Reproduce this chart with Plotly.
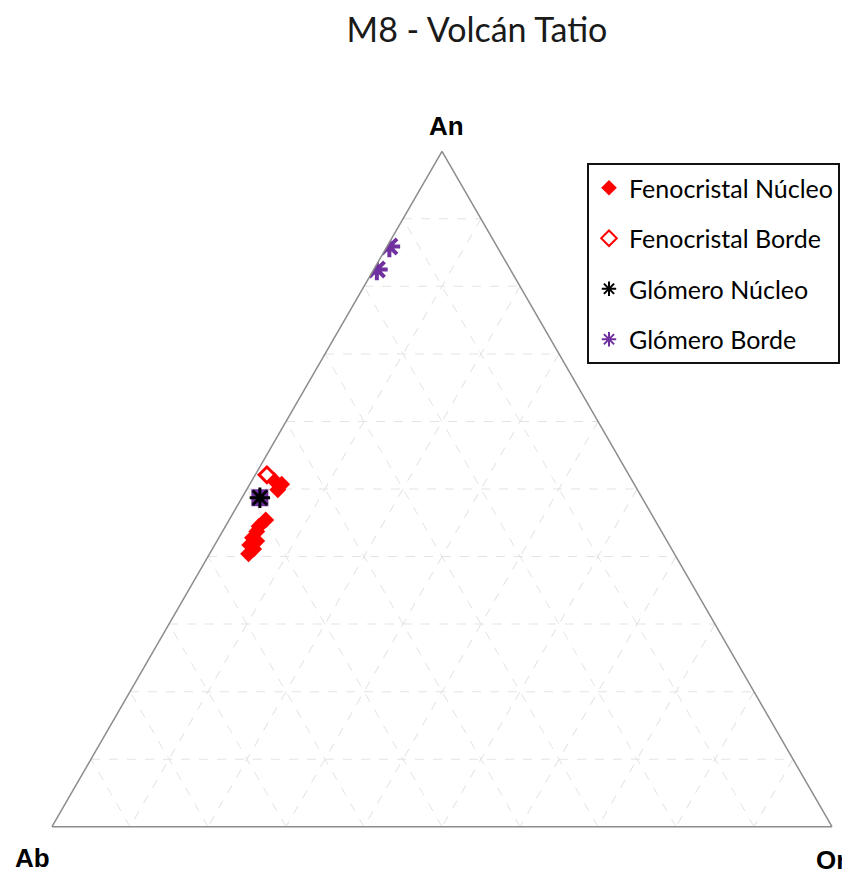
import plotly.graph_objects as go

# ───────────── Data (fractions An / Ab / Or) ─────────────
feno_nucleo_an = [0.513, 0.507, 0.499, 0.454, 0.445, 0.437, 0.428, 0.423, 0.417, 0.411, 0.404]
feno_nucleo_or = [0.028, 0.041, 0.040, 0.047, 0.043, 0.044, 0.043, 0.051, 0.045, 0.053, 0.050]

feno_borde_an = [0.521]
feno_borde_or = [0.015]

glom_nucleo_an = [0.487]
glom_nucleo_or = [0.023]

glom_borde_an = [0.859, 0.825]
glom_borde_or = [0.003, 0.004]

corner_labels = ["An", "Ab", "Or"]


def ab_of(an, orr):
    return [round(1 - a - o, 4) for a, o in zip(an, orr)]


FONT = "Lato, 'Open Sans', sans-serif"
PURPLE = "#7030A0"

fig = go.Figure()

fig.add_trace(go.Scatterternary(
    a=feno_nucleo_an, b=ab_of(feno_nucleo_an, feno_nucleo_or), c=feno_nucleo_or,
    mode="markers", name="Fenocristal Núcleo", legendgroup="1",
    marker=dict(symbol="diamond", size=13, color="#FF0000", line=dict(width=0)),
))
fig.add_trace(go.Scatterternary(
    a=feno_borde_an, b=ab_of(feno_borde_an, feno_borde_or), c=feno_borde_or,
    mode="markers", name="Fenocristal Borde", legendgroup="2",
    marker=dict(symbol="diamond", size=12, color="white", line=dict(width=3, color="#FF0000")),
))
# purple square behind the black star
fig.add_trace(go.Scatterternary(
    a=glom_nucleo_an, b=ab_of(glom_nucleo_an, glom_nucleo_or), c=glom_nucleo_or,
    mode="markers", showlegend=False, legendgroup="3", hoverinfo="skip",
    marker=dict(symbol="square", size=17, color=PURPLE),
))
fig.add_trace(go.Scatterternary(
    a=glom_nucleo_an, b=ab_of(glom_nucleo_an, glom_nucleo_or), c=glom_nucleo_or,
    mode="markers", name="Glómero Núcleo", legendgroup="3",
    marker=dict(symbol="asterisk", size=17, color="black", line=dict(width=3, color="black")),
))
fig.add_trace(go.Scatterternary(
    a=glom_borde_an, b=ab_of(glom_borde_an, glom_borde_or), c=glom_borde_or,
    mode="markers", name="Glómero Borde", legendgroup="4",
    marker=dict(symbol="asterisk", size=18, color=PURPLE, line=dict(width=4, color=PURPLE)),
))

axis_style = dict(
    title=dict(text=""),
    showticklabels=False, ticks="",
    linecolor="#8c8c8c", linewidth=1.5,
    showgrid=True, gridcolor="#e3e3e3", griddash="dash", gridwidth=1,
    dtick=0.1, min=0,
)
label_font = dict(family="Liberation Sans, Arial", size=26, color="black")

# corner labels placed like the original (outside the vertices)
label_pos = [
    dict(x=438 / 850, y=1 - 118 / 876, xanchor="center"),
    dict(x=24 / 850, y=1 - 850 / 876, xanchor="center"),
    dict(x=806 / 850, y=1 - 852 / 876, xanchor="left"),
]
annotations = [
    dict(text=f"<b>{t}</b>", xref="paper", yref="paper", yanchor="middle",
         showarrow=False, font=label_font, **p)
    for t, p in zip(corner_labels, label_pos)
]

fig.update_layout(
    width=850, height=876,
    paper_bgcolor="white", plot_bgcolor="white",
    margin=dict(l=0, r=0, t=0, b=0),
    font=dict(family=FONT, color="black"),
    title=dict(text="M8 - Volcán Tatio", x=469 / 850, xanchor="center", y=0.975, yanchor="middle",
               font=dict(family=FONT, size=34, color="#1a1a1a")),
    ternary=dict(
        sum=1,
        domain=dict(x=[44 / 850, 824 / 850], y=[(876 - 819) / 876, (876 - 143) / 876]),
        bgcolor="white",
        aaxis=axis_style, baxis=axis_style, caxis=axis_style,
    ),
    annotations=annotations,
    legend=dict(
        x=579 / 850, y=(876 - 155) / 876, xanchor="left", yanchor="top",
        bordercolor="#111111", borderwidth=2, bgcolor="white",
        font=dict(family=FONT, size=25, color="black"),
        tracegroupgap=15, itemsizing="constant", itemwidth=30,
    ),
)

fig.write_html("out.html")
